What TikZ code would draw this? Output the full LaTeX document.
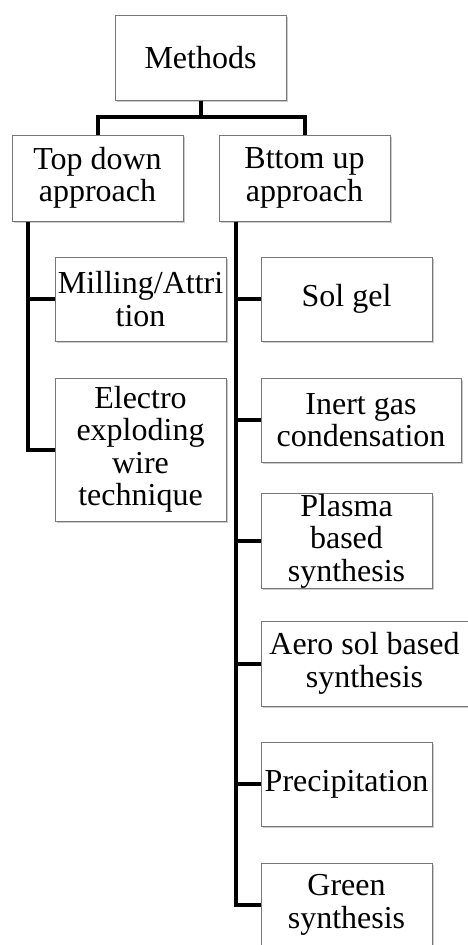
\documentclass[tikz,border=0pt]{standalone}
\usepackage{fontspec}
\setmainfont{Liberation Serif}
\usepackage{xcolor}
\definecolor{BoxEdge}{HTML}{777777}
\usepackage{tikz}
\usetikzlibrary{shadows}

\begin{document}
\begin{tikzpicture}[x=1pt,y=-1pt,
  box/.style={draw=BoxEdge,line width=1pt,fill=white,inner sep=0pt,align=center,
    minimum width=171pt,minimum height=85pt,font=\fontsize{32}{32.5}\selectfont,
    drop shadow={shadow xshift=1.6pt,shadow yshift=-2.2pt,opacity=0.4}},
  link/.style={line width=4pt,line join=miter}]
  \useasboundingbox (0,0) rectangle (468,945);
  % root and the two approaches
  \node[box] (methods) at (200.5,57.5) {Methods};
  \node[box,minimum height=86pt] (top) at (97.5,178) {Top down\\approach};
  \node[box,minimum height=86pt] (bottom) at (304.5,178) {Bttom up\\approach};
  % top down branch
  \node[box,minimum height=84pt] (mill) at (140.5,299) {Milling/Attri\\tion};
  \node[box,minimum height=143pt] (elec) at (140.5,449.5) {Electro\\exploding\\wire\\technique};
  % bottom up branch
  \node[box,minimum height=84pt] (sol) at (346.5,299) {Sol gel};
  \node[box,minimum height=84pt,minimum width=200pt] (inert) at (361,420) {Inert gas\\condensation};
  \node[box,minimum height=84pt] (plasma) at (346.5,541) {Plasma\\based\\synthesis};
  \node[box,minimum width=207pt] (aero) at (364.5,663.5) {Aero sol based\\synthesis};
  \node[box,minimum height=84pt] (precip) at (346.5,784) {Precipitation};
  \node[box,minimum height=84pt] (green) at (346.5,905) {Green\\synthesis};
  % connectors
  \draw[link] (methods.south) -- ++(0,16) -| (top.north);
  \draw[link] (methods.south) -- ++(0,16) -| (bottom.north);
  \coordinate (tstem) at ([xshift=16pt]top.south west);
  \coordinate (bstem) at ([xshift=17pt]bottom.south west);
  \foreach \n in {mill,elec}{\draw[link] (tstem) |- (\n.west);}
  \foreach \n in {sol,inert,plasma,aero,precip,green}{\draw[link] (bstem) |- (\n.west);}
\end{tikzpicture}
\end{document}
